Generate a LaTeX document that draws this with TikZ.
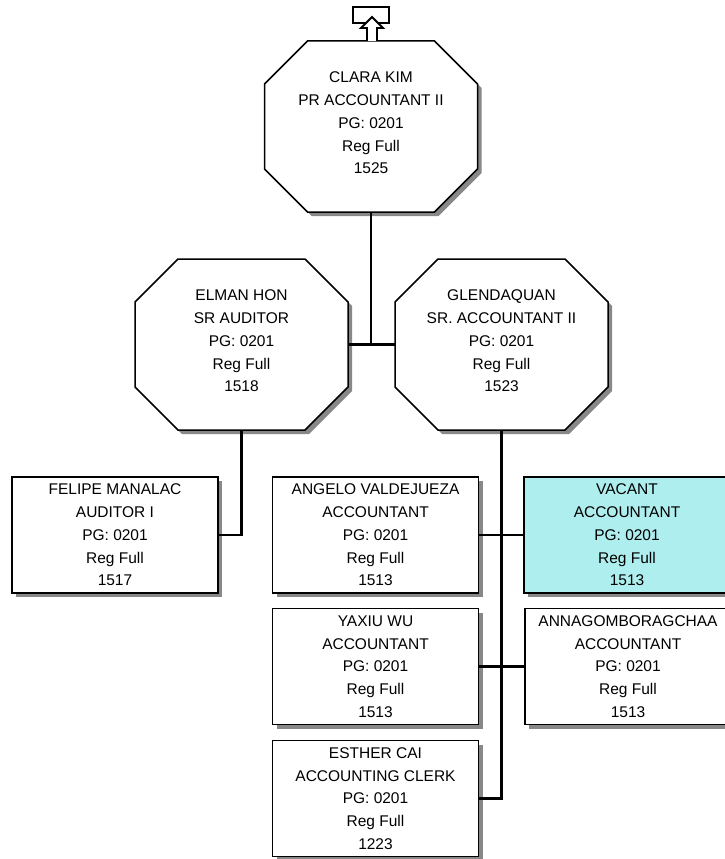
\documentclass[tikz,border=0pt]{standalone}
\usepackage{fontspec}
\setmainfont{Liberation Sans}
\usetikzlibrary{shadows,calc}
\definecolor{shadowgray}{RGB}{136,136,136}
\definecolor{vacantfill}{RGB}{175,238,238}
\tikzset{
  txt/.style={align=center,font=\fontsize{15.5}{22.75}\selectfont,inner sep=0pt},
  octframe/.style={draw=black,line width=1.5pt,fill=white},
  octshadow/.style={fill=shadowgray},
  octarea/.style={draw=none,rectangle,minimum width=213pt,minimum height=171pt,inner sep=0pt},
  posbox/.style={txt,draw=black,line width=1.5pt,fill=white,rectangle,
    minimum width=206pt,minimum height=116pt,
    drop shadow={shadow xshift=4pt,shadow yshift=-4pt,fill=shadowgray,opacity=1}},
  vacantbox/.style={posbox,fill=vacantfill},
  conn/.style={draw=black,line width=2.8pt},
}
\newcommand\octpath{(-63.5,-85.5) -- (63.5,-85.5) -- (106.5,-42.5) -- (106.5,42.5) -- (63.5,85.5) -- (-63.5,85.5) -- (-106.5,42.5) -- (-106.5,-42.5) -- cycle}
\newcommand\octnode[4]{%
  \begin{scope}[shift={(#2,#3)}]
    \fill[octshadow,shift={(4,4)}] \octpath;
    \path[octframe] \octpath;
  \end{scope}
  \node[octarea] (#1) at (#2,#3) {};
  \node[txt] (#1-t) at ([yshift=3.5pt]#1.center) {#4};
}
\begin{document}
\begin{tikzpicture}[x=1pt,y=-1pt]
\useasboundingbox (0,0) rectangle (725,859);
\clip (0,0) rectangle (725,859);

% top connector symbol
\draw[line width=2pt] (353,7.5) rectangle (389,23);
\coordinate (tip) at (372,17);
\octnode{clara}{371}{126.5}{CLARA KIM\\PR ACCOUNTANT II\\PG: 0201\\Reg Full\\1525}
\draw[line width=1.8pt,fill=white,line join=miter] (367,41) -- (367,28) -- (361,28) -- (tip) -- (383,28) -- (377,28) -- (377,41);

\octnode{elman}{241.5}{344.5}{ELMAN HON\\SR AUDITOR\\PG: 0201\\Reg Full\\1518}
\octnode{glenda}{501.5}{344.5}{GLENDAQUAN\\SR. ACCOUNTANT II\\PG: 0201\\Reg Full\\1523}

\node[posbox] (felipe) at (115,535) {FELIPE MANALAC\\AUDITOR I\\PG: 0201\\Reg Full\\1517};
\node[posbox] (angelo) at (375.5,535) {ANGELO VALDEJUEZA\\ACCOUNTANT\\PG: 0201\\Reg Full\\1513};
\node[vacantbox] (vacant) at (627,535) {VACANT\\ACCOUNTANT\\PG: 0201\\Reg Full\\1513};
\node[posbox] (yaxiu) at (375.5,666.5) {YAXIU WU\\ACCOUNTANT\\PG: 0201\\Reg Full\\1513};
\node[posbox] (anna) at (628,666.5) {ANNAGOMBORAGCHAA\\ACCOUNTANT\\PG: 0201\\Reg Full\\1513};
\node[posbox] (esther) at (375.5,798.5) {ESTHER CAI\\ACCOUNTING CLERK\\PG: 0201\\Reg Full\\1223};

% connectors
\coordinate (j1) at (clara.south |- elman.east);
\draw[conn] (clara.south) -- (j1);
\draw[conn] (elman.east) -- (glenda.west);
\draw[conn] (elman.south) |- (felipe.east);
\coordinate (trunkend) at (glenda.south |- esther.east);
\draw[conn] (glenda.south) -- (trunkend);
\draw[conn] (angelo.east) -- (vacant.west);
\draw[conn] (yaxiu.east) -- (anna.west);
\draw[conn] (esther.east) -- ([xshift=1.4pt]trunkend);
\end{tikzpicture}
\end{document}
